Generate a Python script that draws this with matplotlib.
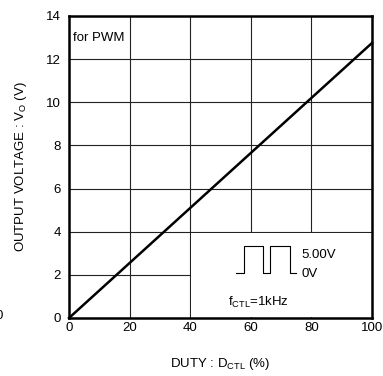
import matplotlib
matplotlib.use("Agg")
import matplotlib.pyplot as plt
from matplotlib.patches import Rectangle

plt.rcParams['font.family'] = ['Liberation Sans', 'DejaVu Sans']
plt.rcParams['mathtext.fontset'] = 'custom'
plt.rcParams['mathtext.rm'] = 'Liberation Sans'

# data
duty = [0, 100]
vout = [0, 12.75]
x_ticks = [0, 20, 40, 60, 80, 100]
y_ticks = [0, 2, 4, 6, 8, 10, 12, 14]

# PWM waveform sketch (data coords)
wave_x = [55.0, 57.7, 57.7, 64.1, 64.1, 66.5, 66.5, 72.9, 72.9, 74.8]
wave_y = [2.07, 2.07, 3.34, 3.34, 2.07, 2.07, 3.34, 3.34, 2.07, 2.07]

fs = 9.5

fig = plt.figure(figsize=(3.83, 3.76), dpi=100)
ax = fig.add_axes([69/383, 1-318/376, 303/383, 302/376])

ax.set_xlim(0, 100)
ax.set_ylim(0, 14)
ax.set_xticks(x_ticks)
ax.set_yticks(y_ticks)
ax.tick_params(length=0, labelsize=fs, colors='black')
ax.tick_params(axis='x', pad=3)
ax.tick_params(axis='y', pad=6)
ax.grid(True, color='#222222', linewidth=0.8)
ax.set_axisbelow(True)
for s in ax.spines.values():
    s.set_linewidth(1.8)

# white box that hides grid in lower right
ax.add_patch(Rectangle((40.3, 0.05), 59.6, 3.9, facecolor='white', edgecolor='none', zorder=1.5))

ax.plot(duty, vout, color='black', linewidth=1.8, zorder=3, clip_on=False)
ax.plot(wave_x, wave_y, color='black', linewidth=0.8, zorder=3)

ax.text(1.3, 13.0, 'for PWM', fontsize=fs, va='center', ha='left')
ax.text(76.6, 2.9, '5.00V', fontsize=fs, va='center', ha='left')
ax.text(76.6, 2.05, '0V', fontsize=fs, va='center', ha='left')
ax.text(52.5, 0.71, r'f$_{\mathrm{CTL}}$=1kHz', fontsize=fs, va='center', ha='left')

ax.set_xlabel(r'DUTY : D$_{\mathrm{CTL}}$ (%)', fontsize=fs, labelpad=16)
ax.set_ylabel(r'OUTPUT VOLTAGE : V$_{\mathrm{O}}$ (V)', fontsize=fs, labelpad=12)

fig.text(3/383, 1-316/376, '0', fontsize=fs, ha='right', va='center')

fig.savefig('out.png', dpi=100)
